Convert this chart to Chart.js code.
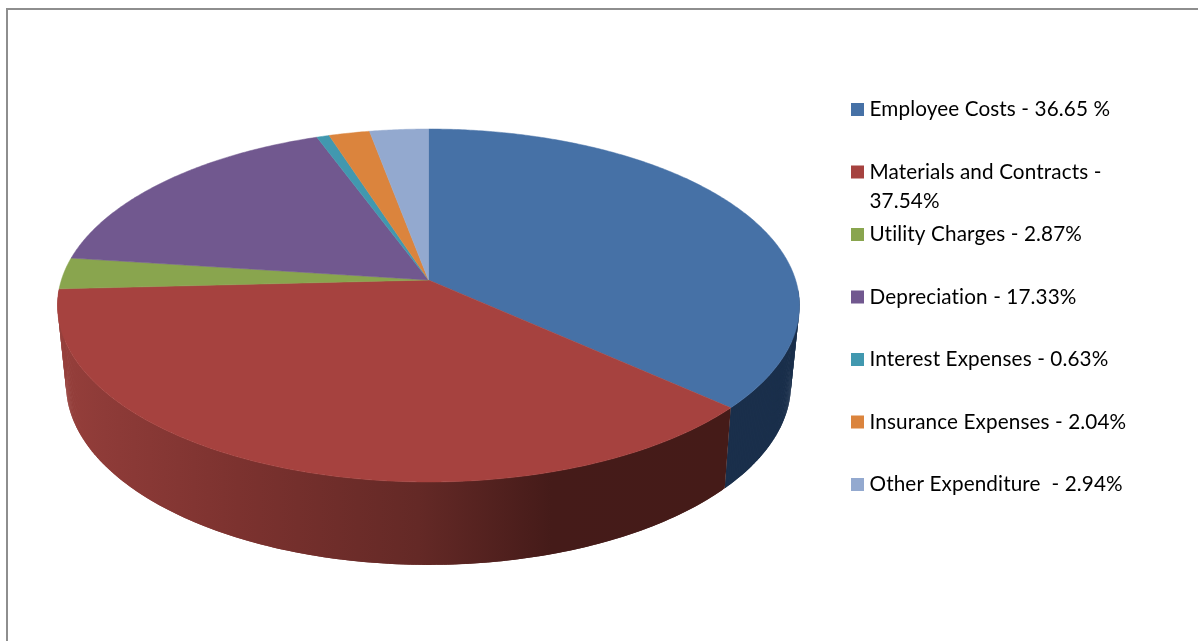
<!DOCTYPE html>
<html>
<head>
<meta charset="utf-8">
<title>Expenditure</title>
<script src="https://cdn.jsdelivr.net/npm/chart.js@4"></script>
<style>
  html, body { margin: 0; padding: 0; background: #fff; overflow: hidden; }
  #wrap { position: relative; width: 1198px; height: 641px; overflow: hidden; }
  #frame { position: absolute; left: 6px; top: 8px; width: 1300px; height: 800px; border: 2px solid #8e8e8e; }
  canvas { position: absolute; left: 0; top: 0; }
</style>
</head>
<body>
<div id="wrap">
  <div id="frame"></div>
  <canvas id="chart" width="1198" height="641"></canvas>
</div>
<script>
(function () {
  "use strict";

  const categories = ["Employee Costs", "Materials and Contracts", "Utility Charges", "Depreciation", "Interest Expenses", "Insurance Expenses", "Other Expenditure"];
  const values = [36.65, 37.54, 2.87, 17.33, 0.63, 2.04, 2.94];
  const legendLines = [
    ["Employee Costs - 36.65 %"],
    ["Materials and Contracts -", "37.54%"],
    ["Utility Charges - 2.87%"],
    ["Depreciation - 17.33%"],
    ["Interest Expenses - 0.63%"],
    ["Insurance Expenses - 2.04%"],
    ["Other Expenditure  - 2.94%"]
  ];
  const colors = ["#4671A6", "#A6423F", "#89A54E", "#71588F", "#4198AF", "#DB843D", "#93A9CF"];
  const blueSide = "#1A2F4B";

  // perspective of the pie, top rim and bottom rim
  const tilt = 0.1445;
  const topHeight = 172.8;
  const bottom = { tilt: 0.15, height: 176.7, drop: 77, scale: 362.5 / 371 };

  function topPoint(arc, angle) {
    const u = Math.cos(angle);
    const v = Math.sin(angle);
    const w = 1 - tilt * v;
    const a = arc.outerRadius * Math.sqrt(1 - tilt * tilt);
    return [arc.x + a * u / w, arc.y + topHeight * v / w];
  }

  function bottomPoint(arc, angle) {
    const u = Math.cos(angle);
    const v = Math.sin(angle);
    const w = 1 - bottom.tilt * v;
    const a = arc.outerRadius * bottom.scale * Math.sqrt(1 - bottom.tilt * bottom.tilt);
    return [arc.x + a * u / w, arc.y + bottom.drop + bottom.height * v / w];
  }

  function anglesOf(arc) {
    const list = [];
    const step = Math.PI / 360;
    for (let t = arc.startAngle; t < arc.endAngle; t += step) list.push(t);
    list.push(arc.endAngle);
    return list;
  }

  function addPath(ctx, points) {
    ctx.beginPath();
    points.forEach((p, i) => (i ? ctx.lineTo(p[0], p[1]) : ctx.moveTo(p[0], p[1])));
    ctx.closePath();
  }

  const pie3d = {
    id: "pie3d",
    beforeDatasetDraw(chart, args) {
      const ctx = chart.ctx;
      const arcs = args.meta.data;

      const redSide = ctx.createLinearGradient(58, 0, 725, 0);
      redSide.addColorStop(0, "#963F3B");
      redSide.addColorStop(0.07, "#8E3B38");
      redSide.addColorStop(0.27, "#7C322F");
      redSide.addColorStop(0.54, "#642926");
      redSide.addColorStop(0.74, "#451B19");
      redSide.addColorStop(1, "#451B18");
      const sideFills = [blueSide, redSide];

      ctx.save();
      // outer wall, only the blue and red slices show it
      // quads overlap their neighbour so no seams show
      sideFills.forEach((fill, i) => {
        const arc = arcs[i];
        const angles = anglesOf(arc).filter((t) => Math.sin(t) > 0.05);
        ctx.fillStyle = fill;
        for (let n = 1; n < angles.length; n++) {
          const from = angles[n - 1];
          const to = angles[Math.min(n + 1, angles.length - 1)];
          addPath(ctx, [topPoint(arc, from), topPoint(arc, to), bottomPoint(arc, to), bottomPoint(arc, from)]);
          ctx.fill();
        }
      });
      arcs.forEach((arc, i) => {
        const fill = arc.options.backgroundColor || colors[i];
        addPath(ctx, [[arc.x, arc.y]].concat(anglesOf(arc).map((t) => topPoint(arc, t))));
        ctx.fillStyle = fill;
        ctx.strokeStyle = fill;
        ctx.lineWidth = 0.5;
        ctx.fill();
        ctx.stroke();
      });
      ctx.restore();
      return false;
    }
  };

  const sideLegend = {
    id: "sideLegend",
    afterDraw(chart) {
      const ctx = chart.ctx;
      ctx.save();
      ctx.font = '20.7px Lato';
      ctx.letterSpacing = "0.12px";
      ctx.textAlign = "left";
      ctx.textBaseline = "alphabetic";
      legendLines.forEach((lines, i) => {
        const base = 116 + i * 62.5;
        ctx.fillStyle = colors[i];
        ctx.fillRect(851, base - 13, 13, 13);
        ctx.fillStyle = "#000";
        lines.forEach((line, n) => ctx.fillText(line, 869.5, base + n * 29));
      });
      ctx.restore();
    }
  };

  new Chart(document.getElementById("chart"), {
    type: "pie",
    data: {
      labels: categories,
      datasets: [{ data: values, backgroundColor: colors, borderWidth: 0 }]
    },
    options: {
      responsive: false,
      animation: false,
      radius: 371,
      layout: { padding: { left: 0, right: 341, top: 0, bottom: 81 } },
      plugins: { legend: { display: false }, tooltip: { enabled: false } }
    },
    plugins: [pie3d, sideLegend]
  });
})();
</script>
</body>
</html>
